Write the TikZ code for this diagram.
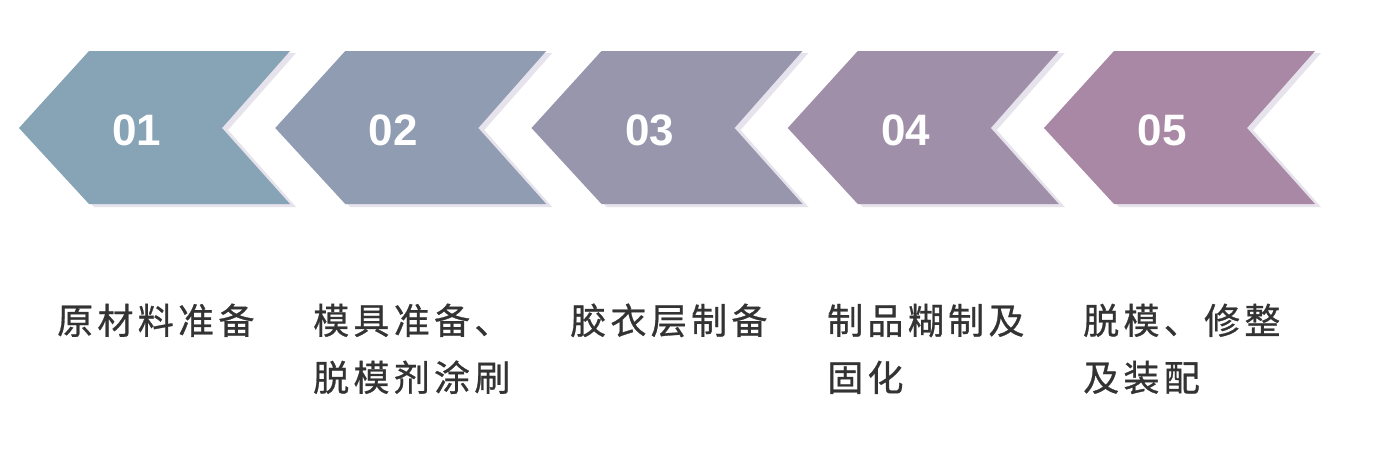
\documentclass[tikz,border=0pt]{standalone}
\usepackage{fontspec}
\setsansfont{Liberation Sans}
\newfontfamily\cjk[LetterSpace=12,FakeBold=0.8]{Noto Sans CJK SC}
\definecolor{c1}{HTML}{87A3B6}
\definecolor{c2}{HTML}{8F9CB1}
\definecolor{c3}{HTML}{9896AD}
\definecolor{c4}{HTML}{A08FA8}
\definecolor{c5}{HTML}{A888A4}
\definecolor{shadowc}{HTML}{E7E3EC}
\definecolor{labgray}{HTML}{333333}
\begin{document}
\begin{tikzpicture}[x=1pt,y=-1pt,
  num/.style={text=white,font=\sffamily\bfseries\fontsize{44}{44}\selectfont,inner sep=0pt},
  lab/.style={anchor=base west,align=left,text=labgray,font=\cjk\fontsize{36}{57}\selectfont,inner sep=0pt}]
\useasboundingbox[fill=white] (0,0) rectangle (1374,448);
\foreach \i/\c in {0/c1,1/c2,2/c3,3/c4,4/c5}{
  \begin{scope}[xshift=\i*256.25]
    \fill[shadowc] (24,130) -- (94,53) -- (296,53) -- (228,130) -- (296,207) -- (94,207) -- cycle;
    \fill[\c] (19,128) -- (89,51) -- (290,51) -- (222,128) -- (290,204) -- (89,204) -- cycle;
  \end{scope}
}
\node[num] (n1) at (137,130) {01};
\node[num] (n2) at (393.25,130) {02};
\node[num] (n3) at (649.5,130) {03};
\node[num] (n4) at (905.75,130) {04};
\node[num] (n5) at (1162,130) {05};
\node[lab] (l1) at (57,334) {原材料准备};
\node[lab] (l2) at (313,391) {模具准备、\\脱模剂涂刷};
\node[lab] (l3) at (570,334) {胶衣层制备};
\node[lab] (l4) at (827,391) {制品糊制及\\固化};
\node[lab] (l5) at (1083,391) {脱模、修整\\及装配};
\end{tikzpicture}
\end{document}
